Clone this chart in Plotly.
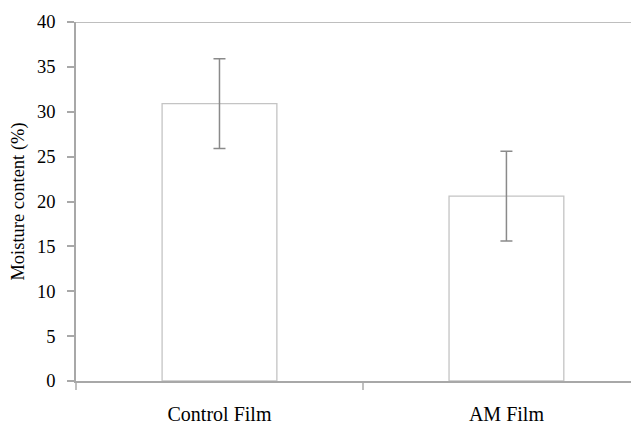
import plotly.graph_objects as go

categories = ["Control Film", "AM Film"]
moisture = [30.9, 20.6]
errors = [5.0, 5.0]
y_ticks = [0, 5, 10, 15, 20, 25, 30, 35, 40]

fig = go.Figure()
fig.add_trace(go.Bar(
    x=categories, y=moisture, width=0.4,
    marker=dict(color="white", line=dict(color="#c4c4c4", width=1.3)),
    error_y=dict(type="data", array=errors, visible=True,
                 color="#8a8a8a", thickness=1.5, width=6),
))

fig.add_shape(type="line", xref="paper", yref="y", x0=0, x1=1, y0=40, y1=40,
              line=dict(color="#a8a8a8", width=1.5))

# page body adds an 8px margin, so the figure is sized/positioned to compensate
fig.update_layout(
    width=631, height=417,
    margin=dict(l=68, r=0, t=14, b=41),
    paper_bgcolor="white", plot_bgcolor="white",
    showlegend=False,
    font=dict(family="Liberation Serif", color="black", size=18.5),
    xaxis=dict(range=[-0.5, 1.462], showline=True, linecolor="#a8a8a8", linewidth=1.5,
               ticks="outside", tickson="boundaries", ticklen=7, tickcolor="#c0c0c0",
               tickwidth=1.5, tickfont=dict(size=20), ticklabelstandoff=14,
               showgrid=False, zeroline=False),
    yaxis=dict(range=[0, 40], tickvals=y_ticks, showline=True, linecolor="#a8a8a8",
               linewidth=1.5, ticks="outside", ticklen=7, tickcolor="#a8a8a8",
               tickwidth=1.5, ticklabelstandoff=8, showgrid=False, zeroline=False,
               title=dict(text="Moisture content (%)", font=dict(size=18.5), standoff=12)),
)

fig.write_html("out.html")
